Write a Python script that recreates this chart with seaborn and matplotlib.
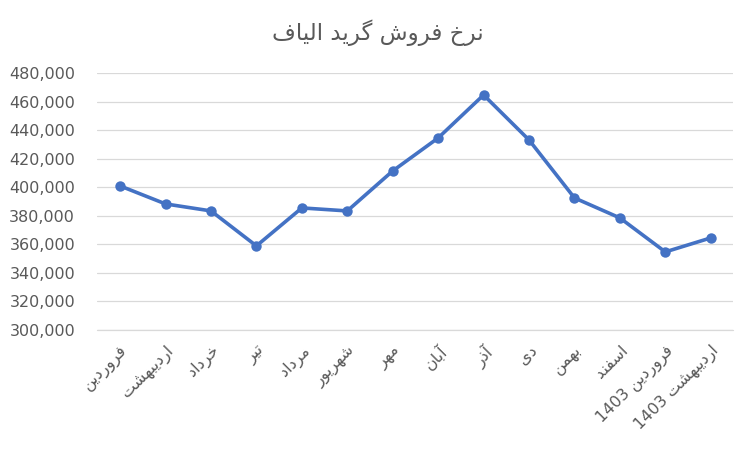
import numpy as np
import pandas as pd
import matplotlib
matplotlib.use("Agg")
import matplotlib.pyplot as plt
import matplotlib.ticker as mticker
import seaborn as sns

# data
months = ["فروردین", "اردیبهشت", "خرداد", "تیر", "مرداد", "شهریور", "مهر",
          "آبان", "آذر", "دی", "بهمن", "اسفند", "فروردین 1403", "اردیبهشت 1403"]
prices = [400900, 388300, 383400, 358900, 385500, 383400, 411400,
          434500, 464600, 433100, 392500, 378500, 354700, 364500]
title = "نرخ فروش گرید الیاف"

# minimal persian shaping (matplotlib has no bidi / joining)
FORMS = {  # iso, fin, ini, med
    "ا": ("\uFE8D", "\uFE8E", None, None),
    "آ": ("\uFE81", "\uFE82", None, None),
    "ب": ("\uFE8F", "\uFE90", "\uFE91", "\uFE92"),
    "ت": ("\uFE95", "\uFE96", "\uFE97", "\uFE98"),
    "خ": ("\uFEA5", "\uFEA6", "\uFEA7", "\uFEA8"),
    "د": ("\uFEA9", "\uFEAA", None, None),
    "ذ": ("\uFEAB", "\uFEAC", None, None),
    "ر": ("\uFEAD", "\uFEAE", None, None),
    "ز": ("\uFEAF", "\uFEB0", None, None),
    "س": ("\uFEB1", "\uFEB2", "\uFEB3", "\uFEB4"),
    "ش": ("\uFEB5", "\uFEB6", "\uFEB7", "\uFEB8"),
    "ف": ("\uFED1", "\uFED2", "\uFED3", "\uFED4"),
    "ل": ("\uFEDD", "\uFEDE", "\uFEDF", "\uFEE0"),
    "م": ("\uFEE1", "\uFEE2", "\uFEE3", "\uFEE4"),
    "ن": ("\uFEE5", "\uFEE6", "\uFEE7", "\uFEE8"),
    "ه": ("\uFEE9", "\uFEEA", "\uFEEB", "\uFEEC"),
    "و": ("\uFEED", "\uFEEE", None, None),
    "ی": ("\uFBFC", "\uFBFD", "\uFBFE", "\uFBFF"),
    "گ": ("\uFB92", "\uFB93", "\uFB94", "\uFB95"),
}


def shape_word(w):
    out = []
    for i, c in enumerate(w):
        if c not in FORMS:
            out.append(c)
            continue
        prev = w[i - 1] if i > 0 else None
        nxt = w[i + 1] if i + 1 < len(w) else None
        join_prev = prev in FORMS and FORMS[prev][2] is not None
        join_next = nxt in FORMS and FORMS[c][2] is not None
        iso, fin, ini, med = FORMS[c]
        if join_prev and join_next:
            out.append(med)
        elif join_prev:
            out.append(fin)
        elif join_next:
            out.append(ini)
        else:
            out.append(iso)
    if any(c in FORMS for c in w):
        out = out[::-1]
    return "".join(out)


def fa(s):
    return " ".join(shape_word(w) for w in s.split(" ")[::-1])


df = pd.DataFrame({"pos": np.arange(len(months)), "price": prices})

sns.set_style("white")
plt.rcParams["font.family"] = ["DejaVu Sans"]

fig = plt.figure(figsize=(7.55, 4.55), dpi=100)
ax = fig.add_axes([0.129, 0.2747, 0.8425, 0.5649])

sns.lineplot(data=df, x="pos", y="price", ax=ax, color="#4472C4", linewidth=2.6,
             marker="o", markersize=7.5, markeredgewidth=0, zorder=3)

ax.set_ylim(300000, 480000)
ax.set_xlim(-0.5, len(months) - 0.5)
ax.yaxis.set_major_locator(mticker.MultipleLocator(20000))
ax.yaxis.set_major_formatter(mticker.FuncFormatter(lambda v, p: f"{v:,.0f}"))
ax.grid(axis="y", color="#D9D9D9", linewidth=0.9)
ax.axhline(300000, color="#D9D9D9", linewidth=0.9, clip_on=False, zorder=1)
ax.set_axisbelow(True)
for s in ax.spines.values():
    s.set_visible(False)

ax.set_xticks(df["pos"])
ax.set_xticklabels([fa(m) for m in months], rotation=45, ha="right",
                   rotation_mode="anchor", fontsize=11.5, color="#595959")
ax.tick_params(axis="x", length=0, pad=9)
ax.tick_params(axis="y", length=0, labelsize=11.5, labelcolor="#595959", pad=16)
ax.set_xlabel("")
ax.set_ylabel("")

fig.suptitle(fa(title), x=0.5, y=0.958, fontsize=16.5, color="#595959")

fig.savefig("out.png", dpi=100, facecolor="white")
